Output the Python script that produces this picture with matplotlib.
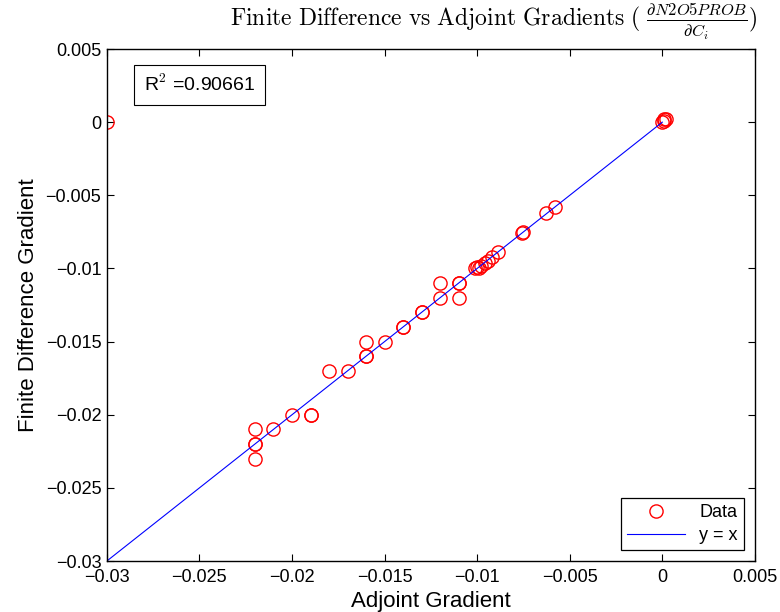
import numpy as np
import matplotlib
matplotlib.use("Agg")
import matplotlib.pyplot as plt

plt.rcParams['font.family'] = ['Liberation Sans', 'DejaVu Sans']
plt.rcParams['mathtext.fontset'] = 'cm'

# adjoint gradient (x) vs finite difference gradient (y)
adjoint = [-0.0300, 0.0000, 0.0001, 0.0002, 0.0001,
           -0.0063, -0.0058, -0.0076, -0.0075,
           -0.0089, -0.0092, -0.0094, -0.0096, -0.0098, -0.0099, -0.0100, -0.0101,
           -0.0110, -0.0110, -0.0120, -0.0120, -0.0110,
           -0.0130, -0.0130, -0.0140, -0.0140, -0.0150, -0.0160, -0.0160, -0.0160,
           -0.0170, -0.0180,
           -0.0190, -0.0190, -0.0200, -0.0210, -0.0220, -0.0220, -0.0220, -0.0220]
findiff = [0.0000, 0.0000, 0.0001, 0.0002, 0.0002,
           -0.0062, -0.0058, -0.0076, -0.0075,
           -0.0089, -0.0092, -0.0095, -0.0096, -0.0098, -0.0100, -0.0099, -0.0100,
           -0.0110, -0.0110, -0.0110, -0.0120, -0.0120,
           -0.0130, -0.0130, -0.0140, -0.0140, -0.0150, -0.0150, -0.0160, -0.0160,
           -0.0170, -0.0170,
           -0.0200, -0.0200, -0.0200, -0.0210, -0.0210, -0.0220, -0.0220, -0.0230]
r2 = 0.90661

xticks = [-0.03, -0.025, -0.02, -0.015, -0.01, -0.005, 0, 0.005]
tick_labels = ['\u22120.03', '\u22120.025', '\u22120.02', '\u22120.015',
               '\u22120.01', '\u22120.005', '0', '0.005']

fig = plt.figure(figsize=(7.8, 6.12), dpi=100)
ax = fig.add_axes([0.137, 0.0833, 0.8308, 0.8366])

ax.plot(adjoint, findiff, 'o', mfc='none', mec='red', ms=9.5, mew=1.0, label='Data')
line = np.array([-0.03, 0.0])
ax.plot(line, line, '-', color='blue', lw=0.8, label='y = x')

ax.set_xlim(-0.03, 0.005)
ax.set_ylim(-0.03, 0.005)
ax.set_xticks(xticks)
ax.set_xticklabels(tick_labels)
ax.set_yticks(xticks)
ax.set_yticklabels(tick_labels)
ax.tick_params(direction='in', top=True, right=True, labelsize=13, length=5)
ax.tick_params(axis='x', pad=6)
ax.tick_params(axis='y', pad=4)
for s in ax.spines.values():
    s.set_linewidth(1.0)

ax.set_xlabel('Adjoint Gradient', fontsize=16, labelpad=3)
ax.set_ylabel('Finite Difference Gradient', fontsize=16, labelpad=5)

ax.text(0.057, 0.93, r'R$^2$ =%.5f' % r2, transform=ax.transAxes, fontsize=14,
        va='center', ha='left',
        bbox=dict(boxstyle='square,pad=0.5', fc='white', ec='black', lw=0.8))

leg = ax.legend(loc='lower right', fontsize=13, fancybox=False, framealpha=1,
                edgecolor='black', borderaxespad=0.6, handlelength=3.2,
                borderpad=0.35, labelspacing=0.3)
leg.get_frame().set_linewidth(0.9)

fig.text(0.633, 0.964,
         r'$\mathrm{Finite\ Difference\ vs\ Adjoint\ Gradients\ (}\ \frac{\partial N2O5PROB}{\partial C_i}\mathrm{)}$',
         ha='center', va='center', fontsize=17)

fig.savefig('out.png', dpi=100)
